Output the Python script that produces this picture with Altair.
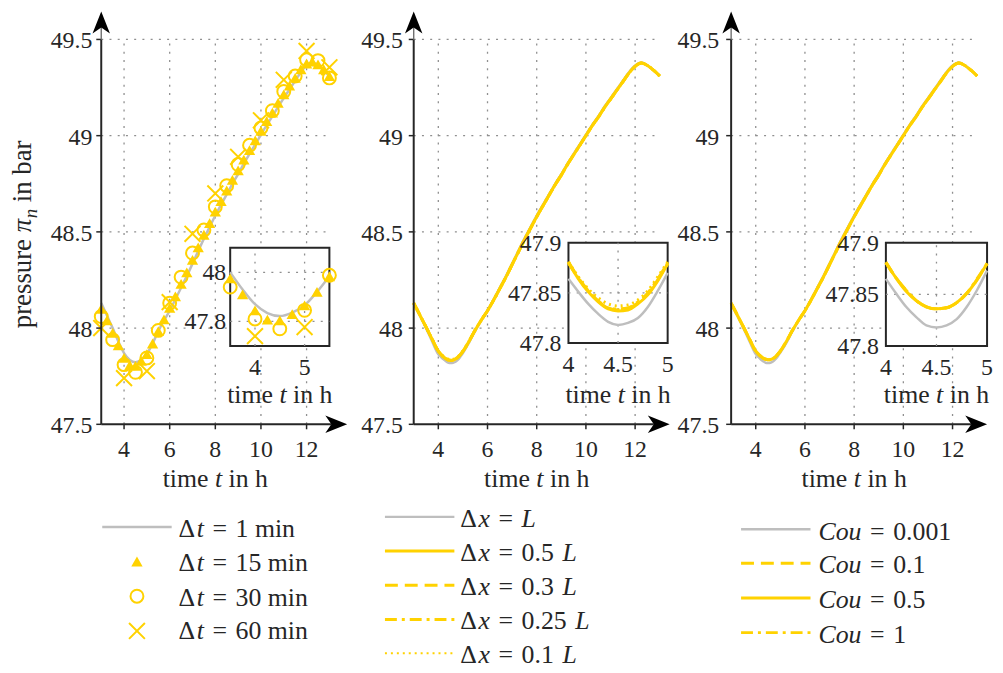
import altair as alt
import pandas as pd

FONT = "Liberation Serif"
INK = "#262626"
GRAY = "#BEBEBE"
YEL = "#FFD200"
GRIDC = "#8F8F8F"
W, H = 995, 665
PG = 8  # page margin

# ---------------- data: panel 1 (time step study) ----------------
T15 = [3.0, 3.25, 3.5, 3.75, 4.0, 4.25, 4.5, 4.75, 5.0, 5.25, 5.5, 5.75, 6.0, 6.25, 6.5, 6.75,
       7.0, 7.25, 7.5, 7.75, 8.0, 8.25, 8.5, 8.75, 9.0, 9.25, 9.5, 9.75, 10.0, 10.25, 10.5,
       10.75, 11.0, 11.25, 11.5, 11.75, 12.0, 12.25, 12.5, 12.75, 13.0]
DT1 = [48.13, 48.065, 48.0, 47.93, 47.87, 47.834, 47.822, 47.836, 47.866, 47.92, 47.984, 48.04,
       48.09, 48.15, 48.21, 48.27, 48.335, 48.4, 48.465, 48.525, 48.585, 48.64, 48.695, 48.75,
       48.8, 48.855, 48.905, 48.955, 49.005, 49.055, 49.1, 49.15, 49.195, 49.24, 49.285, 49.33,
       49.365, 49.38, 49.365, 49.34, 49.31]
DT15 = [48.1, 48.04, 47.975, 47.91, 47.845, 47.807, 47.804, 47.83, 47.865, 47.92, 47.984, 48.045,
        48.105, 48.165, 48.23, 48.29, 48.355, 48.42, 48.485, 48.545, 48.605, 48.66, 48.715, 48.77,
        48.82, 48.875, 48.925, 48.975, 49.025, 49.075, 49.12, 49.17, 49.215, 49.26, 49.3, 49.345,
        49.375, 49.385, 49.37, 49.345, 49.31]
T30 = [3.0, 3.5, 4.0, 4.5, 5.0, 5.5, 6.0, 6.5, 7.0, 7.5, 8.0, 8.5, 9.0, 9.5, 10.0, 10.5, 11.0,
       11.5, 12.0, 12.5, 13.0]
DT30 = [48.06, 47.94, 47.81, 47.77, 47.845, 47.988, 48.13, 48.265, 48.39, 48.51, 48.63, 48.74,
        48.85, 48.95, 49.04, 49.13, 49.23, 49.31, 49.395, 49.39, 49.3]
T60 = [3.0, 4.0, 5.0, 6.0, 7.0, 8.0, 9.0, 10.0, 11.0, 12.0, 13.0]
DT60 = [48.0, 47.74, 47.777, 48.135, 48.49, 48.7, 48.89, 49.08, 49.29, 49.44, 49.355]

# ---------------- data: panels 2 and 3 ----------------
TX = [3.0, 3.25, 3.5, 3.75, 4.0, 4.1, 4.2, 4.3, 4.4, 4.5, 4.6, 4.7, 4.8, 4.9, 5.0, 5.25, 5.5,
      5.75, 6.0, 6.25, 6.5, 6.75, 7.0, 7.25, 7.5, 7.75, 8.0, 8.25, 8.5, 8.75, 9.0, 9.25, 9.5,
      9.75, 10.0, 10.25, 10.5, 10.75, 11.0, 11.25, 11.5, 11.75, 12.0, 12.25, 12.5, 12.75, 13.0]
G_HEAD = [48.13, 48.065, 48.0, 47.93]
G_TAIL = [47.925, 47.985, 48.04, 48.09, 48.15, 48.21, 48.27, 48.335, 48.4, 48.465, 48.525,
          48.585, 48.64, 48.695, 48.75, 48.8, 48.855, 48.905, 48.955, 49.005, 49.055, 49.1,
          49.15, 49.195, 49.24, 49.285, 49.33, 49.365, 49.38, 49.365, 49.34, 49.31]
Y_HEAD = [48.13, 48.068, 48.006, 47.942]
Y_TAIL = [47.932, 47.99, 48.042, 48.09, 48.146, 48.205, 48.265, 48.33, 48.394, 48.459, 48.519,
          48.579, 48.635, 48.69, 48.745, 48.795, 48.85, 48.9, 48.95, 49.0, 49.05, 49.095,
          49.145, 49.19, 49.235, 49.28, 49.325, 49.36, 49.377, 49.365, 49.34, 49.31]
# zoomed part 4 h .. 5 h
DX_L = [47.864, 47.851, 47.839, 47.829, 47.821, 47.818, 47.82, 47.825, 47.836, 47.852, 47.87]
DX_05 = [47.88, 47.864, 47.851, 47.841, 47.834, 47.832, 47.833, 47.839, 47.848, 47.862, 47.879]
DX_03 = [47.88, 47.865, 47.852, 47.842, 47.835, 47.833, 47.834, 47.84, 47.849, 47.863, 47.879]
DX_025 = [47.881, 47.865, 47.852, 47.842, 47.835, 47.834, 47.835, 47.841, 47.85, 47.864, 47.88]
DX_01 = [47.881, 47.866, 47.854, 47.845, 47.839, 47.837, 47.838, 47.843, 47.852, 47.866, 47.881]
COU_0001 = [47.865, 47.851, 47.838, 47.828, 47.82, 47.818, 47.82, 47.826, 47.838, 47.854, 47.873]
COU_01 = [47.881, 47.866, 47.854, 47.844, 47.838, 47.836, 47.837, 47.842, 47.851, 47.864, 47.88]
COU_05 = [47.881, 47.866, 47.853, 47.844, 47.838, 47.836, 47.837, 47.842, 47.851, 47.864, 47.88]
COU_1 = [47.881, 47.866, 47.854, 47.844, 47.838, 47.836, 47.837, 47.842, 47.851, 47.865, 47.88]

# ticks and tick labels
XT_MAIN = [4, 6, 8, 10, 12]
XL_MAIN = ["4", "6", "8", "10", "12"]
YT_MAIN = [47.5, 48, 48.5, 49, 49.5]
YL_MAIN = ["47.5", "48", "48.5", "49", "49.5"]
XT_I1, XL_I1 = [4, 5], ["4", "5"]
YT_I1, YL_I1 = [47.8, 48], ["47.8", "48"]
XT_I2, XL_I2 = [4, 4.5, 5], ["4", "4.5", "5"]
YT_I2, YL_I2 = [47.8, 47.85, 47.9], ["47.8", "47.85", "47.9"]

DT_LABELS = ["1 min", "15 min", "30 min", "60 min"]
DX_LABELS = ["", "0.5", "0.3", "0.25", "0.1"]
COU_LABELS = ["0.001", "0.1", "0.5", "1"]

DASH = [13, 7]
DASHDOT = [12, 5, 3, 5]
DOT = [2, 4]
GRID_DASH = [2, 6.3]
UP = "M0,-1L0.8,1L0,0.45L-0.8,1Z"
RIGHT = "M1,0L-1,0.8L-0.45,0L-1,-0.8Z"
XSHAPE = "M-1,-1L1,1M-1,1L1,-1"


def df_ts(t, p, lo=None, hi=None):
    d = pd.DataFrame({"t": t, "p": p})
    if lo is not None:
        d = d[(d.t >= lo - 1e-9) & (d.t <= hi + 1e-9)]
    return d


def S(dom, lo, hi):
    return alt.Scale(domain=dom, range=[lo - PG, hi - PG], nice=False, zero=False)


def lay(df, mark, xs, ys, xf, yf, x2=None, y2=None, **kw):
    enc = {"x": alt.X(f"{xf}:Q", scale=xs, axis=None), "y": alt.Y(f"{yf}:Q", scale=ys, axis=None)}
    if x2:
        enc["x2"] = alt.X2(x2)
    if y2:
        enc["y2"] = alt.Y2(y2)
    return getattr(alt.Chart(df), "mark_" + mark)(**kw).encode(**enc)


def labels(xv, yv, labs, xs, ys, align, baseline, dx, dy):
    d = pd.DataFrame({"t": xv, "p": yv, "lab": labs})
    return alt.Chart(d).mark_text(font=FONT, fontSize=24, color=INK, align=align,
                                  baseline=baseline, dx=dx, dy=dy).encode(
        x=alt.X("t:Q", scale=xs, axis=None), y=alt.Y("p:Q", scale=ys, axis=None),
        text="lab:N")


LINE_G = dict(color=GRAY, strokeWidth=2.5, interpolate="monotone")
LINE_Y = dict(color=YEL, strokeWidth=3, interpolate="monotone")
TRI = dict(shape="triangle-up", filled=True, color=YEL, size=130, opacity=1)
CIRC = dict(shape="circle", filled=False, color=YEL, strokeWidth=2, size=169, opacity=1)
XM = dict(shape=XSHAPE, filled=False, color=YEL, strokeWidth=2, size=256, opacity=1)


def main_panel(x0, ppu, arrow_x, notch_x, ylab_dx, series):
    xs = S([3, 13], x0, x0 + 10 * ppu)
    ys = S([47.5, 49.5], 425, 37)
    tx = 5.0 / ppu      # 5 px tick, in data units
    ty = 5.0 / 194.0
    L = [
        lay(pd.DataFrame({"t": XT_MAIN, "a": 47.5, "b": 49.5}), "rule", xs, ys, "t", "a", y2="b",
            color=GRIDC, strokeDash=GRID_DASH, strokeWidth=1.3),
        lay(pd.DataFrame({"p": YT_MAIN[1:], "a": 3, "b": 13}), "rule", xs, ys, "a", "p", x2="b",
            color=GRIDC, strokeDash=GRID_DASH, strokeWidth=1.3),
    ]
    for d, m, kw in series:
        L.append(lay(d, m, xs, ys, "t", "p", **kw))
    L += [
        # tick marks
        lay(pd.DataFrame({"t": XT_MAIN, "a": 47.5, "b": 47.5 - ty}), "rule", xs, ys, "t", "a",
            y2="b", color=INK, strokeWidth=1.5),
        lay(pd.DataFrame({"p": YT_MAIN, "a": 3, "b": 3 - tx}), "rule", xs, ys, "a", "p",
            x2="b", color=INK, strokeWidth=1.5),
        # axis lines + arrows
        lay(pd.DataFrame({"a": [3], "b": [notch_x], "p": [47.5]}), "rule", xs, ys, "a", "p",
            x2="b", color=INK, strokeWidth=2),
        lay(pd.DataFrame({"t": [3], "a": [47.5], "b": [49.5]}), "rule", xs, ys, "t", "a",
            y2="b", color=INK, strokeWidth=2),
        lay(pd.DataFrame({"t": [3], "a": [49.5], "b": [49.565]}), "rule", xs, ys, "t", "a",
            y2="b", color="#6e6e6e", strokeWidth=1.4),
        lay(pd.DataFrame({"t": [3], "p": [49.588]}), "point", xs, ys, "t", "p",
            shape=UP, filled=True, color="#000000", size=484, opacity=1),
        lay(pd.DataFrame({"t": [arrow_x], "p": [47.5]}), "point", xs, ys, "t", "p",
            shape=RIGHT, filled=True, color="#000000", size=484, opacity=1),
        # tick labels
        labels(XT_MAIN, [47.5] * len(XT_MAIN), XL_MAIN, xs, ys, "center", "alphabetic", 0, 33),
        labels([3] * len(YT_MAIN), YT_MAIN, YL_MAIN, xs, ys, "right", "middle", ylab_dx, 2),
    ]
    return alt.layer(*L)


def inset(box, xdom, ydom, xt, xl, yt, yl, ylab_dx, series):
    left, right, top, bottom = box
    xs = S(xdom, left, right)
    ys = S(ydom, bottom, top)
    L = [lay(pd.DataFrame({"a": [xdom[0]], "b": [xdom[1]], "c": [ydom[0]], "d": [ydom[1]]}),
             "rect", xs, ys, "a", "c", x2="b", y2="d",
             fill="white", stroke=INK, strokeWidth=2)]
    ix = [v for v in xt if xdom[0] < v < xdom[1]]
    iy = [v for v in yt if ydom[0] < v < ydom[1]]
    if ix:
        L.append(lay(pd.DataFrame({"t": ix, "a": ydom[0], "b": ydom[1]}), "rule", xs, ys, "t",
                     "a", y2="b", color=GRIDC, strokeDash=GRID_DASH, strokeWidth=1.3))
    if iy:
        L.append(lay(pd.DataFrame({"p": iy, "a": xdom[0], "b": xdom[1]}), "rule", xs, ys, "a",
                     "p", x2="b", color=GRIDC, strokeDash=GRID_DASH, strokeWidth=1.3))
    for d, m, kw in series:
        L.append(lay(d, m, xs, ys, "t", "p", **kw))
    L.append(labels(xt, [ydom[0]] * len(xt), xl, xs, ys, "center", "alphabetic", 0, 29))
    L.append(labels([xdom[0]] * len(yt), yt, yl, xs, ys, "right", "middle", ylab_dx, 1))
    return alt.layer(*L)


# ---------------- panels ----------------
p1_series = [
    (df_ts(T15, DT1), "line", LINE_G),
    (df_ts(T15, DT15), "point", TRI),
    (df_ts(T30, DT30), "point", CIRC),
    (df_ts(T60, DT60), "point", XM),
]
p1_inset_series = [
    (df_ts(T15, DT1, 3.5, 5.5), "line", LINE_G),
    (df_ts(T15, DT15, 3.5, 5.5), "point", TRI),
    (df_ts(T30, DT30, 3.5, 5.5), "point", CIRC),
    (df_ts(T60, DT60, 3.5, 5.5), "point", XM),
]


def p2_series(lo=None, hi=None):
    return [
        (df_ts(TX, G_HEAD + DX_L + G_TAIL, lo, hi), "line", LINE_G),
        (df_ts(TX, Y_HEAD + DX_05 + Y_TAIL, lo, hi), "line", LINE_Y),
        (df_ts(TX, Y_HEAD + DX_03 + Y_TAIL, lo, hi), "line", dict(LINE_Y, strokeDash=DASH)),
        (df_ts(TX, Y_HEAD + DX_025 + Y_TAIL, lo, hi), "line", dict(LINE_Y, strokeDash=DASHDOT)),
        (df_ts(TX, Y_HEAD + DX_01 + Y_TAIL, lo, hi), "line", dict(LINE_Y, strokeDash=DOT)),
    ]


def p3_series(lo=None, hi=None):
    return [
        (df_ts(TX, G_HEAD + COU_0001 + G_TAIL, lo, hi), "line", LINE_G),
        (df_ts(TX, Y_HEAD + COU_01 + Y_TAIL, lo, hi), "line", dict(LINE_Y, strokeDash=DASH)),
        (df_ts(TX, Y_HEAD + COU_05 + Y_TAIL, lo, hi), "line", LINE_Y),
        (df_ts(TX, Y_HEAD + COU_1 + Y_TAIL, lo, hi), "line", dict(LINE_Y, strokeDash=DASHDOT)),
    ]


p1 = main_panel(102, 23.0, 13.30, 13.09, -9, p1_series)
i1 = inset((232, 332, 247, 346), [3.5, 5.5], [47.7, 48.1], XT_I1, XL_I1, YT_I1, YL_I1, -4,
           p1_inset_series)
p2 = main_panel(417, 24.8, 12.96, 12.76, -11, p2_series())
i2 = inset((573, 673, 242, 343), [4, 5], [47.8, 47.9], XT_I2, XL_I2, YT_I2, YL_I2, -7,
           p2_series(4, 5))
p3 = main_panel(737, 24.8, 12.96, 12.76, -12, p3_series())
i3 = inset((893, 995, 242, 346), [4, 5], [47.8, 47.9], XT_I2, XL_I2, YT_I2, YL_I2, -7,
           p3_series(4, 5))

# ---------------- text helpers ----------------
REG_W = {" ": 250, "\u2004": 333, "\u0394": 700, "=": 564, ".": 250, "m": 778, "i": 278,
         "n": 500, "h": 500, "t": 278, "e": 444, "p": 500, "r": 333, "s": 389, "u": 500,
         "b": 500, "a": 444}
ITA_W = {"t": 278, "x": 444, "L": 556, "C": 667, "o": 500, "u": 500, "n": 500, "\u03c0": 520}
WS = " \u2004"


def width(s, it, f):
    tab = ITA_W if it else REG_W
    return sum(tab.get(c, 500) for c in s) * f / 1000.0


TEXT = []


def pieces(parts, x, y, fs, center=False, vertical=False):
    tot = sum(width(p[0], p[1], fs * (p[2] if len(p) > 2 else 1.0)) for p in parts)
    if vertical:
        pos = y + tot / 2
    else:
        pos = x - tot / 2 if center else x
    for p in parts:
        s, it = p[0], p[1]
        f = fs * (p[2] if len(p) > 2 else 1.0)
        sh = p[3] if len(p) > 3 else 0.0
        body = s.lstrip(WS)
        off = width(s[:len(s) - len(body)], it, f)
        core = body.rstrip(WS)
        if core:
            if vertical:
                TEXT.append(dict(x=x + sh - PG, y=pos - off - PG, s=core, it=it, fs=f, ang=270))
            else:
                TEXT.append(dict(x=pos + off - PG, y=y + sh - PG, s=core, it=it, fs=f, ang=0))
        pos = pos - width(s, it, f) if vertical else pos + width(s, it, f)


TIME_T = [("time ", False), ("t", True), (" in h", False)]
for cxp in (217, 541, 861):
    pieces(TIME_T, cxp, 488, 26, center=True)
for cxp in (282, 623, 944):
    pieces(TIME_T, cxp, 404, 26, center=True)
pieces([("pressure ", False), ("\u03c0", True), ("n", True, 0.7, 6), (" in bar", False)],
       31.5, 233.5, 27, vertical=True)

TH = "\u2004"
for lab, yb in zip(DT_LABELS, [539, 573.3, 607.7, 641.7]):
    pieces([("\u0394", False), ("t", True), (TH + "=" + TH + lab, False)], 180, yb, 26)
for lab, yb in zip(DX_LABELS, [528.3, 562.7, 597.3, 631.7, 666]):
    pre = TH + "=" + TH + (lab + TH if lab else "")
    pieces([("\u0394", False), ("x", True), (pre, False), ("L", True)], 464, yb, 26)
for lab, yb in zip(COU_LABELS, [541.7, 575, 610, 645]):
    pieces([("Cou", True), (TH + "=" + TH + lab, False)], 825, yb, 26)

TDF = pd.DataFrame(TEXT)


def text_layer(it):
    d = TDF[TDF.it == it].drop(columns=["it"])
    return alt.Chart(d).mark_text(font=FONT, fontStyle="italic" if it else "normal",
                                  align="left", baseline="alphabetic", color=INK).encode(
        x=alt.X("x:Q", scale=None, axis=None), y=alt.Y("y:Q", scale=None, axis=None),
        text="s:N", size=alt.Size("fs:Q", scale=None, legend=None),
        angle=alt.Angle("ang:Q", scale=None, legend=None))


# ---------------- legend samples ----------------
def pix_rule(rows, **kw):
    d = pd.DataFrame(rows, columns=["a", "b", "y"])
    d[["a", "b", "y"]] = d[["a", "b", "y"]] - PG
    return alt.Chart(d).mark_rule(**kw).encode(
        x=alt.X("a:Q", scale=None, axis=None), x2=alt.X2("b"),
        y=alt.Y("y:Q", scale=None, axis=None))


def pix_point(x, y, **kw):
    d = pd.DataFrame({"x": [x - PG], "y": [y - PG]})
    return alt.Chart(d).mark_point(**kw).encode(
        x=alt.X("x:Q", scale=None, axis=None), y=alt.Y("y:Q", scale=None, axis=None))


leg = [
    pix_rule([(103, 173, 528.5), (388, 458, 518.3), (747, 817, 530.7)], color=GRAY, strokeWidth=2.5),
    pix_rule([(388, 458, 552.7), (747, 817, 600)], color=YEL, strokeWidth=3),
    pix_rule([(388, 458, 587.3), (747, 817, 565)], color=YEL, strokeWidth=3, strokeDash=DASH),
    pix_rule([(388, 458, 621.7), (747, 817, 635)], color=YEL, strokeWidth=3, strokeDash=DASHDOT),
    pix_rule([(388, 458, 655.7)], color=YEL, strokeWidth=2, strokeDash=DOT),
    pix_point(138, 563.3, **TRI),
    pix_point(138, 598.3, **CIRC),
    pix_point(138, 633.3, **XM),
]

chart = alt.layer(
    p1, i1, p2, i2, p3, i3, *leg, text_layer(False), text_layer(True)
).resolve_scale(x="independent", y="independent").properties(
    width=W, height=H, autosize=alt.AutoSizeParams(type="none"), padding=0,
    background="white",
).configure_view(strokeWidth=0)

chart.save("out.html", embed_options={"renderer": "svg", "actions": False})
